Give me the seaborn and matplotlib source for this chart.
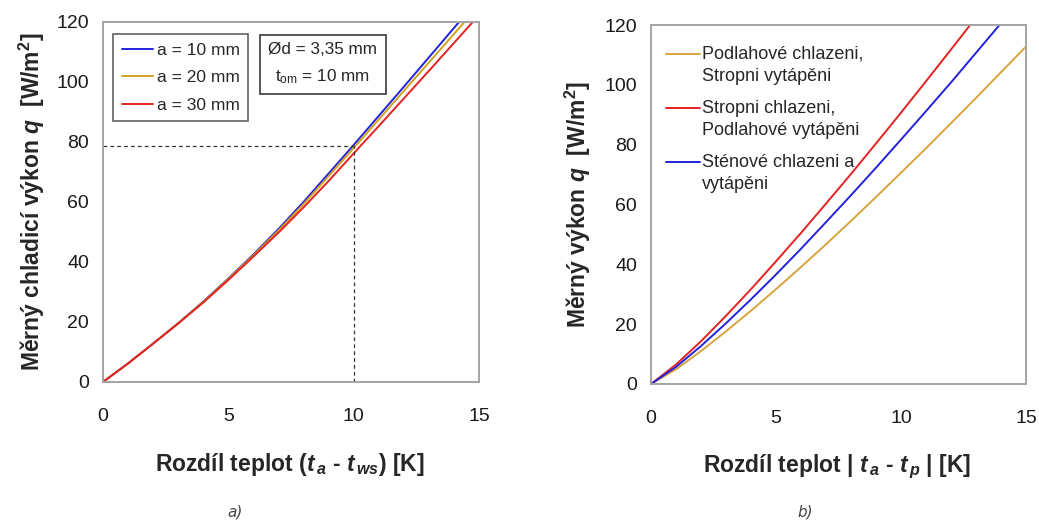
import numpy as np
import pandas as pd
import matplotlib
matplotlib.use("Agg")
import matplotlib.pyplot as plt
import seaborn as sns

# ---------------- data ----------------
# a) cooling output vs. temperature difference for three pipe spacings
dt_a = [0, 1, 2, 3, 4, 5, 6, 7, 8, 9, 10, 11, 12, 13, 14, 15]
q_a10 = [0, 6.2, 12.8, 19.6, 26.8, 34.5, 42.5, 51.0, 60.0, 69.5, 79.0, 88.7, 98.4, 108.2, 118.0, 127.8]
q_a20 = [0, 6.2, 12.8, 19.6, 26.7, 34.3, 42.2, 50.5, 59.3, 68.6, 78.0, 87.5, 97.0, 106.5, 116.0, 125.5]
q_a30 = [0, 6.2, 12.8, 19.5, 26.5, 34.0, 41.8, 49.8, 58.2, 67.0, 76.2, 85.3, 94.5, 103.7, 113.0, 122.3]
labels_a = ["a = 10 mm", "a = 20 mm", "a = 30 mm"]
ref_dt = 10.0
ref_q = 78.8

# b) specific output for floor / ceiling / wall systems
dt_b = [0, 1, 2, 3, 4, 5, 6, 7, 8, 9, 10, 11, 12, 13, 14, 15]
q_floor = [0, 4.9, 11.0, 17.6, 24.5, 31.7, 39.1, 46.7, 54.5, 62.5, 70.6, 78.8, 87.2, 95.6, 104.2, 112.8]
q_ceiling = [0, 6.5, 14.3, 22.8, 31.7, 41.0, 50.5, 60.3, 70.2, 80.4, 90.7, 101.2, 111.8, 122.5]
q_wall = [0, 5.7, 12.7, 20.3, 28.3, 36.6, 45.2, 54.1, 63.1, 72.3, 81.7, 91.2, 100.8, 110.7, 120.6]
labels_b = ["Podlahové chlazeni,\nStropni vytápěni",
            "Stropni chlazeni,\nPodlahové vytápěni",
            "Sténové chlazeni a\nvytápěni"]

x_ticks = [0, 5, 10, 15]
y_ticks = [0, 20, 40, 60, 80, 100, 120]

# ---------------- style ----------------
sns.set_style("white")
plt.rcParams["font.family"] = ["Liberation Sans", "DejaVu Sans"]
plt.rcParams["mathtext.fontset"] = "custom"
plt.rcParams["mathtext.rm"] = "Liberation Sans:bold"
plt.rcParams["mathtext.bf"] = "Liberation Sans:bold"
plt.rcParams["mathtext.it"] = "Liberation Sans:bold:italic"
plt.rcParams["mathtext.sf"] = "Liberation Sans"

frame_col = "#a3a3a3"
blue, gold, red = "#2222dd", "#cfa21e", "#e52222"
tan = "#d8a43c"

fig = plt.figure(figsize=(10.39, 5.21), dpi=100)
ax_a = fig.add_axes([103 / 1039, 1 - 382 / 521, 376 / 1039, 360 / 521])
ax_b = fig.add_axes([651 / 1039, 1 - 384 / 521, 375 / 1039, 359 / 521])


def long_frame(x_vals, series, names):
    rows = []
    for name, ys in zip(names, series):
        for xv, yv in zip(x_vals, ys):
            rows.append((xv, yv, name))
    return pd.DataFrame(rows, columns=["dt", "q", "series"])


df_a = long_frame(dt_a, [q_a10, q_a20, q_a30], labels_a)
sns.lineplot(data=df_a, x="dt", y="q", hue="series", hue_order=labels_a,
             palette=dict(zip(labels_a, [blue, gold, red])), linewidth=1.4,
             ax=ax_a, legend=False, estimator=None, sort=False)

df_b = long_frame(dt_b, [q_floor, q_ceiling, q_wall], labels_b)
sns.lineplot(data=df_b, x="dt", y="q", hue="series", hue_order=labels_b,
             palette=dict(zip(labels_b, [tan, red, blue])), linewidth=1.4,
             ax=ax_b, legend=False, estimator=None, sort=False)

# reading guides at the design point
ax_a.plot([0, ref_dt], [ref_q, ref_q], ls=(0, (3, 2.5)), color="#333333", lw=0.9)
ax_a.plot([ref_dt, ref_dt], [0, ref_q], ls=(0, (3, 2.5)), color="#333333", lw=0.9)

for ax in (ax_a, ax_b):
    ax.set_xlim(0, 15)
    ax.set_ylim(0, 120)
    ax.set_xticks(x_ticks)
    ax.set_yticks(y_ticks)
    for sp in ax.spines.values():
        sp.set_visible(True)
        sp.set_color(frame_col)
        sp.set_linewidth(1.4)
    ax.tick_params(axis="both", direction="out", length=4, width=1.2,
                   color=frame_col, labelsize=14, labelcolor="#1a1a1a")
    ax.tick_params(axis="x", pad=14.5)
    ax.tick_params(axis="y", pad=6)

ax_a.set_xlabel(r"Rozdíl teplot ($t_{\,a}$ - $t_{\,ws}$) [K]",
                fontsize=16.5, fontweight="bold", va="center")
ax_a.set_ylabel(r"Měrný chladicí výkon $q$  [W/m$^{2}$]",
                fontsize=16.5, fontweight="bold", va="center")
ax_b.set_xlabel(r"Rozdíl teplot | $t_{\,a}$ - $t_{\,p}$ | [K]",
                fontsize=16.5, fontweight="bold", va="center")
ax_b.set_ylabel(r"Měrný výkon $q$  [W/m$^{2}$]",
                fontsize=16.5, fontweight="bold", va="center")
ax_a.xaxis.set_label_coords(0.497, -0.228)
ax_a.yaxis.set_label_coords(-0.19, 0.5)
ax_b.xaxis.set_label_coords(0.497, -0.231)
ax_b.yaxis.set_label_coords(-0.195, 0.5)

# legend a)
leg_a = ax_a.legend(ax_a.get_lines()[:3], labels_a, loc="upper left",
                    bbox_to_anchor=(0.027, 0.966), borderaxespad=0,
                    fontsize=12.5, frameon=True, fancybox=False,
                    handlelength=1.8, handletextpad=0.2, labelspacing=0.7,
                    borderpad=0.5)
leg_a.get_frame().set_edgecolor("#3a3a3a")
leg_a.get_frame().set_linewidth(1.2)

ax_a.text(0.584, 0.884, "Ød = 3,35 mm\n" + r"$\mathsf{t}_{\mathsf{om}}$ = 10 mm",
          transform=ax_a.transAxes, ha="center", va="center", fontsize=12.3,
          linespacing=1.75,
          bbox=dict(boxstyle="square,pad=0.5", fc="white", ec="#3a3a3a", lw=1.2))

# legend b) with handles next to the first line of each label
leg_b = ax_b.legend(ax_b.get_lines()[:3], labels_b, loc="upper left",
                    bbox_to_anchor=(0.02, 0.962), borderaxespad=0,
                    fontsize=13, frameon=False, handlelength=1.9,
                    handletextpad=0.1, labelspacing=0.85)
for t in leg_b.get_texts():
    t.set_linespacing(1.36)
for h in leg_b.legend_handles:
    yd = np.asarray(h.get_ydata(), dtype=float)
    h.set_ydata(yd + 8.0)

fig.text(235 / 1039, 1 - 512 / 521, "a)", fontsize=11, style="italic",
         color="#444444", ha="center", va="center", family="DejaVu Sans")
fig.text(805 / 1039, 1 - 512 / 521, "b)", fontsize=11, style="italic",
         color="#444444", ha="center", va="center", family="DejaVu Sans")

fig.savefig("out.png", dpi=100, facecolor="white")
